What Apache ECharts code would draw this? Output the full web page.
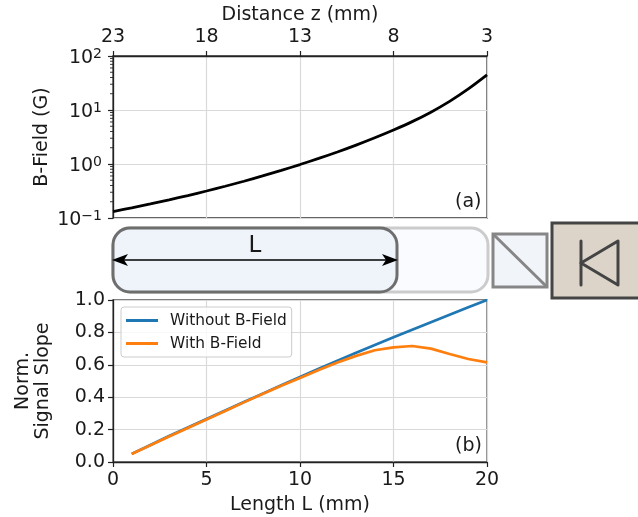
<!DOCTYPE html>
<html>
<head>
<meta charset="utf-8">
<style>html,body{margin:0;padding:0;background:#fff}#c{width:638px;height:517px}</style>
<script src="https://cdn.jsdelivr.net/npm/echarts@6/dist/echarts.min.js"></script>
</head>
<body>
<div id="c"></div>
<script>
const distanceZ = [23,22,21,20,19,18,17,16,15,14,13,12,11,10,9,8,7,6,5,4,3];
const bField = [0.1318,0.1542,0.182,0.2168,0.2606,0.3162,0.3873,0.4797,0.6012,0.7621,0.9772,1.268,1.671,2.239,3.062,4.266,6.095,9.12,14.45,24.55,44.67];
const lengthL = [1,2,3,4,5,6,7,8,9,10,11,12,13,14,15,16,17,18,19,20];
const withoutField = [0.05,0.105,0.16,0.213,0.266,0.318,0.37,0.422,0.474,0.525,0.575,0.625,0.674,0.722,0.77,0.817,0.863,0.909,0.955,1.0];
const withField = [0.05,0.103,0.157,0.21,0.262,0.315,0.368,0.42,0.47,0.518,0.568,0.614,0.655,0.69,0.708,0.716,0.70,0.667,0.636,0.615];
const topTicks = [23,18,13,8,3];
const seriesNames = ['Without B-Field','With B-Field'];
const minorTickValues = [0.2,0.3,0.4,0.5,0.6,0.7,0.8,0.9,2,3,4,5,6,7,8,9,20,30,40,50,60,70,80,90];

const FONT = 'DejaVu Sans';
const TXT = '#1a1a1a';
const GRIDC = '#d9d9d9';
const pairs = (a,b)=>a.map((v,i)=>[v,b[i]]);
const axisLine = {show:true,lineStyle:{color:'#222',width:1.3}};
const axisTick = {show:true,length:5,lineStyle:{color:'#222',width:1.2}};
const splitLine = {show:true,lineStyle:{color:GRIDC,width:1.2}};
const label = {color:TXT,fontFamily:FONT,fontSize:19};
const nameStyle = {color:TXT,fontFamily:FONT,fontSize:19};

const chart = echarts.init(document.getElementById('c'),null,{renderer:'canvas'});
chart.setOption({
  animation:false,
  backgroundColor:'#fff',
  textStyle:{fontFamily:FONT},
  grid:[
    {left:113,top:56,width:374,height:162,outerBoundsMode:'none',show:true,borderColor:'#333',borderWidth:1.3,backgroundColor:'transparent'},
    {left:113,top:300,width:374,height:162,outerBoundsMode:'none',show:true,borderColor:'#555',borderWidth:1.3,backgroundColor:'transparent'}
  ],
  xAxis:[
    {gridIndex:0,type:'value',position:'top',inverse:true,min:3,max:23,interval:5,
     name:'Distance z (mm)',nameLocation:'middle',nameGap:31,nameMoveOverlap:false,nameTextStyle:nameStyle,
     axisLine,axisTick,splitLine,axisLabel:{...label,margin:9,formatter:v=>topTicks.includes(v)?String(v):''}},
    {gridIndex:1,type:'value',position:'bottom',min:0,max:20,interval:5,
     name:'Length L (mm)',nameLocation:'middle',nameGap:34,nameMoveOverlap:false,nameTextStyle:nameStyle,
     axisLine,axisTick,splitLine,axisLabel:{...label,margin:9}}
  ],
  yAxis:[
    {gridIndex:0,type:'log',logBase:10,min:0.1,max:100,
     name:'B-Field (G)',nameLocation:'middle',nameGap:61,nameMoveOverlap:false,nameTextStyle:nameStyle,
     axisLine,axisTick,splitLine,
     minorTick:{show:false},
     axisLabel:{...label,margin:11,padding:[4,0,0,0],formatter:v=>{
       const e=Math.round(Math.log10(v));
       return '10{s|'+(e<0?'\u2212'+(-e):e)+'}';
     },rich:{s:{fontSize:14,verticalAlign:'top',lineHeight:22,color:TXT,fontFamily:FONT,padding:[0,0,6,0]}}}},
    {gridIndex:1,type:'value',min:0,max:1,interval:0.2,
     name:'Norm.\nSignal Slope',nameLocation:'middle',nameGap:60,nameMoveOverlap:false,
     nameTextStyle:{...nameStyle,lineHeight:20},
     axisLine,axisTick,splitLine,axisLabel:{...label,margin:8,padding:[2,0,0,0],formatter:v=>v.toFixed(1)}}
  ],
  legend:{
    left:121,top:307,orient:'vertical',itemWidth:32,itemHeight:3,itemGap:8,
    padding:[6,5,6,5],
    backgroundColor:'rgba(255,255,255,0.8)',borderColor:'#ccc',borderWidth:1,borderRadius:3,
    textStyle:{color:TXT,fontFamily:FONT,fontSize:15.4,padding:[0,0,0,7]},
    data:seriesNames.map(n=>({name:n,icon:'rect'}))
  },
  series:[
    {type:'line',name:'B',xAxisIndex:0,yAxisIndex:0,data:pairs(distanceZ,bField),showSymbol:false,
     smooth:0.3,lineStyle:{color:'#000',width:2.8}},
    {type:'custom',name:'minor',xAxisIndex:0,yAxisIndex:0,clip:false,silent:true,
     data:minorTickValues.map(v=>[23,v]),encode:{x:0,y:1},
     renderItem:(params,api)=>{
       const p=api.coord([api.value(0),api.value(1)]);
       return {type:'line',shape:{x1:p[0]-3,y1:p[1],x2:p[0],y2:p[1]},style:{stroke:'#222',lineWidth:0.9}};
     }},
    {type:'line',name:seriesNames[0],xAxisIndex:1,yAxisIndex:1,data:pairs(lengthL,withoutField),showSymbol:false,
     itemStyle:{color:'#1f77b4'},lineStyle:{color:'#1f77b4',width:2.7}},
    {type:'line',name:seriesNames[1],xAxisIndex:1,yAxisIndex:1,data:pairs(lengthL,withField),showSymbol:false,
     itemStyle:{color:'#ff7f0e'},lineStyle:{color:'#ff7f0e',width:2.7}}
  ],
  graphic:[
    {type:'text',left:455,top:193,style:{text:'(a)',fill:TXT,font:'19px "DejaVu Sans"'}},
    {type:'text',left:455,top:437,style:{text:'(b)',fill:TXT,font:'19px "DejaVu Sans"'}},
    {type:'rect',shape:{x:113,y:228,width:375,height:64,r:17},style:{fill:'#fafbfe',stroke:'#cccccc',lineWidth:3},z:5},
    {type:'rect',shape:{x:113,y:228,width:284,height:64,r:17},style:{fill:'#eff4fb',stroke:'#6e6e6e',lineWidth:3},z:6},
    {type:'line',shape:{x1:116,y1:260,x2:394,y2:260},style:{stroke:'#000',lineWidth:1.3},z:7},
    {type:'polygon',shape:{points:[[112,260],[128,254],[124,260],[128,266]]},style:{fill:'#000'},z:7},
    {type:'polygon',shape:{points:[[398,260],[382,254],[386,260],[382,266]]},style:{fill:'#000'},z:7},
    {type:'text',x:255,y:246,style:{text:'L',fill:TXT,font:'23px "DejaVu Sans"',align:'center',verticalAlign:'middle'},z:7},
    {type:'rect',shape:{x:493,y:234,width:54,height:53},style:{fill:'#f1f5fa',stroke:'#868686',lineWidth:3},z:5},
    {type:'line',shape:{x1:493,y1:234,x2:547,y2:287},style:{stroke:'#868686',lineWidth:3},z:6},
    {type:'rect',shape:{x:552,y:223,width:90,height:75},style:{fill:'#dcd4c8',stroke:'#444',lineWidth:3},z:5},
    {type:'line',shape:{x1:581,y1:241,x2:581,y2:285},style:{stroke:'#444',lineWidth:3,lineCap:'round'},z:6},
    {type:'polygon',shape:{points:[[581,263],[618,241],[618,285]]},style:{fill:'transparent',stroke:'#444',lineWidth:3,lineJoin:'round'},z:6}
  ]
});
</script>
</body>
</html>
